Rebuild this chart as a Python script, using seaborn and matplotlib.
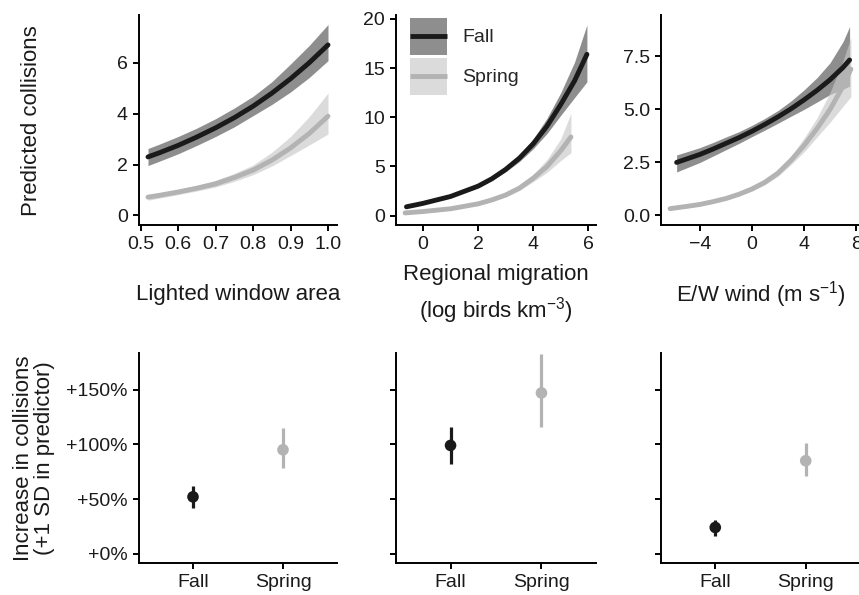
import numpy as np
import pandas as pd
import matplotlib.pyplot as plt
import seaborn as sns
from matplotlib.patches import Rectangle
from matplotlib.lines import Line2D
from matplotlib.legend_handler import HandlerBase

# --- top row: predicted collisions (estimate, lower, upper) ---
window_x = [0.52, 0.55, 0.6, 0.65, 0.7, 0.75, 0.8, 0.85, 0.9, 0.95, 1.0]
window_fall = [2.30, 2.46, 2.75, 3.08, 3.44, 3.84, 4.29, 4.80, 5.37, 6.00, 6.70]
window_fall_lo = [1.96, 2.13, 2.42, 2.75, 3.10, 3.48, 3.92, 4.36, 4.85, 5.42, 6.08]
window_fall_hi = [2.63, 2.80, 3.10, 3.43, 3.80, 4.22, 4.68, 5.25, 5.95, 6.68, 7.50]
window_spring = [0.72, 0.79, 0.92, 1.07, 1.24, 1.49, 1.78, 2.17, 2.65, 3.22, 3.90]
window_spring_lo = [0.60, 0.68, 0.82, 0.96, 1.12, 1.34, 1.60, 1.94, 2.35, 2.77, 3.20]
window_spring_hi = [0.80, 0.88, 1.02, 1.18, 1.38, 1.65, 1.98, 2.48, 3.10, 3.88, 4.81]

migr_x_fall = [-0.6, 0, 1, 2, 2.5, 3, 3.5, 4, 4.5, 5, 5.5, 5.95]
migr_fall = [0.9, 1.25, 1.95, 3.0, 3.75, 4.7, 5.85, 7.3, 9.1, 11.3, 13.7, 16.4]
migr_fall_lo = [0.8, 1.15, 1.84, 2.85, 3.57, 4.45, 5.5, 6.8, 8.35, 10.2, 12.0, 13.6]
migr_fall_hi = [1.0, 1.36, 2.07, 3.16, 3.95, 4.96, 6.2, 7.8, 9.9, 12.5, 15.6, 19.4]
migr_x_spring = [-0.65, 0, 1, 2, 2.5, 3, 3.5, 4, 4.5, 5, 5.37]
migr_spring = [0.28, 0.42, 0.7, 1.2, 1.6, 2.1, 2.8, 3.8, 5.0, 6.6, 8.0]
migr_spring_lo = [0.2, 0.34, 0.6, 1.08, 1.44, 1.9, 2.55, 3.45, 4.4, 5.6, 6.4]
migr_spring_hi = [0.36, 0.5, 0.8, 1.32, 1.76, 2.3, 3.1, 4.2, 5.7, 7.8, 10.4]

wind_x_fall = [-5.8, -4, -3, -2, -1, 0, 1, 2, 3, 4, 5, 6, 7, 7.5]
wind_fall = [2.5, 2.88, 3.13, 3.4, 3.67, 3.97, 4.3, 4.65, 5.03, 5.45, 5.9, 6.4, 6.98, 7.33]
wind_fall_lo = [2.05, 2.5, 2.8, 3.1, 3.4, 3.72, 4.03, 4.35, 4.68, 5.0, 5.35, 5.7, 5.95, 6.1]
wind_fall_hi = [2.85, 3.2, 3.44, 3.7, 3.95, 4.25, 4.58, 4.95, 5.4, 5.92, 6.5, 7.2, 8.2, 8.9]
wind_x_spring = [-6.3, -5, -4, -3, -2, -1, 0, 1, 2, 3, 4, 5, 6, 7, 7.6]
wind_spring = [0.32, 0.43, 0.52, 0.65, 0.8, 1.0, 1.25, 1.57, 2.0, 2.6, 3.3, 4.1, 5.0, 6.1, 6.9]
wind_spring_lo = [0.27, 0.37, 0.46, 0.58, 0.73, 0.92, 1.15, 1.45, 1.85, 2.4, 3.0, 3.7, 4.4, 5.15, 5.6]
wind_spring_hi = [0.38, 0.49, 0.58, 0.72, 0.87, 1.08, 1.35, 1.7, 2.15, 2.8, 3.65, 4.6, 5.8, 7.3, 8.4]

# --- bottom row: % increase per +1 SD (estimate, lower, upper) ---
seasons = ["Fall", "Spring"]
window_eff = [52, 95]
window_eff_lo = [42, 78]
window_eff_hi = [62, 115]
migr_eff = [99, 147]
migr_eff_lo = [82, 116]
migr_eff_hi = [116, 183]
wind_eff = [24, 85]
wind_eff_lo = [16.5, 71]
wind_eff_hi = [31, 101.5]

FALL_LINE = "#1a1a1a"
SPRING_LINE = "#b3b3b3"
FALL_BAND = "#8e8e8e"
SPRING_BAND = "#c8c8c8"
TEXT = "#1a1a1a"

sns.set_theme(style="ticks")
plt.rcParams["font.family"] = ["Liberation Sans", "DejaVu Sans"]
plt.rcParams["mathtext.fontset"] = "custom"
plt.rcParams["mathtext.rm"] = "Liberation Sans"
plt.rcParams["mathtext.it"] = "Liberation Sans:italic"
plt.rcParams["axes.linewidth"] = 1.4
plt.rcParams["axes.edgecolor"] = "black"

W, H = 859, 595
fig = plt.figure(figsize=(W / 100, H / 100), dpi=100)


def add_ax(x0, x1, y0, y1):
    return fig.add_axes([x0 / W, 1 - y1 / H, (x1 - x0) / W, (y1 - y0) / H])


def style(ax):
    sns.despine(ax=ax)
    ax.tick_params(length=4.5, width=1.4, pad=3.5, labelsize=14,
                   colors="black", labelcolor=TEXT)
    ax.set_xlabel("")
    ax.set_ylabel("")


def curves(ax, xf, yf, lof, hif, xs, ys, los, his):
    ax.fill_between(xf, lof, hif, color=FALL_BAND, linewidth=0)
    ax.fill_between(xs, los, his, color=SPRING_BAND, alpha=0.65, linewidth=0)
    df = pd.concat([
        pd.DataFrame({"x": xs, "y": ys, "season": "Spring"}),
        pd.DataFrame({"x": xf, "y": yf, "season": "Fall"}),
    ])
    sns.lineplot(data=df, x="x", y="y", hue="season",
                 palette={"Fall": FALL_LINE, "Spring": SPRING_LINE},
                 hue_order=["Spring", "Fall"], linewidth=3.5,
                 errorbar=None, legend=False, ax=ax)
    style(ax)


def effects(ax, est, lo, hi, show_labels):
    pos = np.arange(len(seasons))
    cols = [FALL_LINE, SPRING_LINE]
    ax.vlines(pos, lo, hi, colors=cols, linewidth=2.3, zorder=2)
    sns.scatterplot(x=pos, y=est, hue=seasons,
                    palette={"Fall": FALL_LINE, "Spring": SPRING_LINE},
                    s=70, linewidth=0, legend=False, zorder=3, ax=ax)
    ax.set_xticks(pos, seasons)
    ax.set_xlim(-0.6, 1.6)
    ax.set_ylim(-8.5, 183.5)
    ax.set_yticks([0, 50, 100, 150])
    if show_labels:
        ax.set_yticklabels(["+0%", "+50%", "+100%", "+150%"])
    else:
        ax.set_yticklabels([])
    style(ax)


class BandLineHandler(HandlerBase):
    # ribbon box with the line through its middle, like the ggplot key
    def create_artists(self, legend, orig_handle, xdescent, ydescent,
                       width, height, fontsize, trans):
        band, line = orig_handle
        rect = Rectangle((-xdescent, -ydescent), width, height,
                         facecolor=band, edgecolor="none", transform=trans)
        ymid = -ydescent + height / 2
        ln = Line2D([-xdescent, -xdescent + width], [ymid, ymid],
                    color=line, linewidth=3.5, solid_capstyle="butt",
                    transform=trans)
        return [rect, ln]


# top row
ax1 = add_ax(139, 337, 15, 225)
curves(ax1, window_x, window_fall, window_fall_lo, window_fall_hi,
       window_x, window_spring, window_spring_lo, window_spring_hi)
ax1.set_xlim(0.496, 1.024)
ax1.set_ylim(-0.375, 7.875)
ax1.set_xticks([0.5, 0.6, 0.7, 0.8, 0.9, 1.0])
ax1.set_xticklabels(["0.5", "0.6", "0.7", "0.8", "0.9", "1.0"])
ax1.set_yticks([0, 2, 4, 6])

ax2 = add_ax(396, 596, 15, 225)
curves(ax2, migr_x_fall, migr_fall, migr_fall_lo, migr_fall_hi,
       migr_x_spring, migr_spring, migr_spring_lo, migr_spring_hi)
ax2.set_xlim(-0.98, 6.28)
ax2.set_ylim(-0.95, 20.4)
ax2.set_xticks([0, 2, 4, 6])
ax2.set_yticks([0, 5, 10, 15, 20])

ax3 = add_ax(661, 860, 15, 225)
curves(ax3, wind_x_fall, wind_fall, wind_fall_lo, wind_fall_hi,
       wind_x_spring, wind_spring, wind_spring_lo, wind_spring_hi)
ax3.set_xlim(-7.0, 8.3)
ax3.set_ylim(-0.45, 9.45)
ax3.set_xticks([-4, 0, 4, 8])
ax3.set_yticks([0, 2.5, 5.0, 7.5])
ax3.set_yticklabels(["0.0", "2.5", "5.0", "7.5"])

# legend inside the middle panel
handles = [(FALL_BAND, FALL_LINE), ("#dbdbdb", SPRING_LINE)]
ax2.legend(handles, seasons, handler_map={tuple: BandLineHandler()},
           loc="upper left", bbox_to_anchor=(0.07, 0.986),
           frameon=False, fontsize=14, handlelength=1.9, handleheight=2.55,
           labelspacing=0.15, handletextpad=0.8, borderpad=0, borderaxespad=0)

# bottom row
bx1 = add_ax(139, 337, 353, 563)
effects(bx1, window_eff, window_eff_lo, window_eff_hi, True)
bx2 = add_ax(396, 596, 353, 563)
effects(bx2, migr_eff, migr_eff_lo, migr_eff_hi, False)
bx3 = add_ax(661, 860, 353, 563)
effects(bx3, wind_eff, wind_eff_lo, wind_eff_hi, False)

# axis titles
fs = 16
fig.text(32 / W, 1 - 121 / H, "Predicted collisions", rotation=90,
         ha="center", va="center", fontsize=fs, color=TEXT)
fig.text(34.5 / W, 1 - 458 / H, "Increase in collisions\n(+1 SD in predictor)",
         rotation=90, ha="center", va="center", fontsize=fs, color=TEXT,
         multialignment="center", linespacing=1.0)
fig.text(238 / W, 1 - 300 / H, "Lighted window area", ha="center",
         va="baseline", fontsize=fs, color=TEXT)
fig.text(496 / W, 1 - 280 / H, "Regional migration", ha="center",
         va="baseline", fontsize=fs, color=TEXT)
fig.text(496 / W, 1 - 318 / H, r"(log birds km$^{-3}$)", ha="center",
         va="baseline", fontsize=fs, color=TEXT)
fig.text(760.5 / W, 1 - 301 / H, r"E/W wind (m s$^{-1}$)", ha="center",
         va="baseline", fontsize=fs, color=TEXT)

fig.savefig("out.png", dpi=100)
